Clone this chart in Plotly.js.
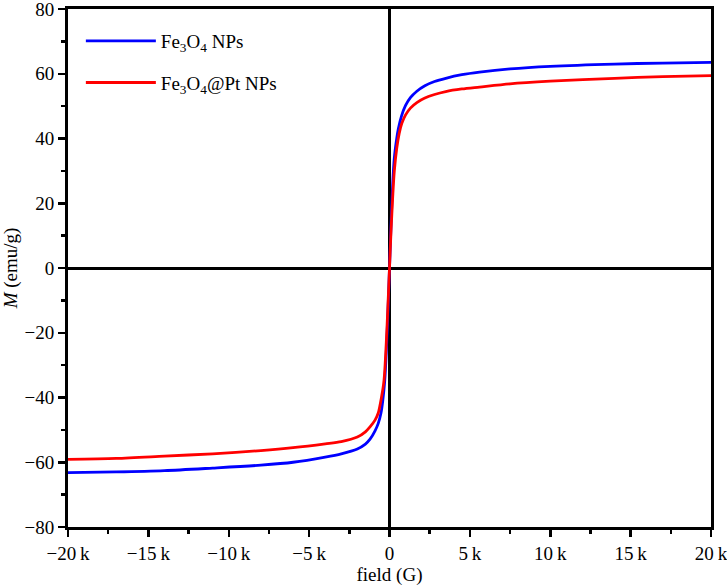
<!DOCTYPE html>
<html>
<head>
<meta charset="utf-8">
<script src="https://cdn.plot.ly/plotly-3.0.1.min.js"></script>
<style>
  body { margin: 0; padding: 0; background: #fff; }
  #plotDiv { width: 727px; height: 586px; }
</style>
</head>
<body>
<div id="plotDiv"></div>
<script>
// Fe3O4 NPs (campo en G, magnetizacion en emu/g)
var fieldFe = [-20000, -17000, -14000, -11000, -8000, -6000, -4000, -3000, -2000, -1500, -1200, -900, -700, -530, -420, -300, -200, -100, 0,
               100, 200, 300, 450, 550, 750, 1000, 1300, 1700, 2200, 2800, 3500, 4500, 5600, 7500, 10000, 14000, 17000, 20000];
var magFe = [-63.2, -63.0, -62.6, -61.8, -60.9, -60.0, -58.4, -57.4, -55.9, -54.4, -52.8, -50.3, -48.0, -44.8, -41.0, -35.0, -26.0, -14.0, 0,
             14.0, 26.0, 34.0, 40.0, 43.0, 47.0, 50.2, 52.6, 54.6, 56.3, 57.6, 58.6, 59.7, 60.5, 61.5, 62.3, 63.0, 63.3, 63.5];

// Fe3O4@Pt NPs
var fieldPt = [-20000, -17000, -14000, -11000, -8000, -6000, -4000, -3000, -2000, -1500, -1200, -900, -700, -500, -340, -200, -100, 0,
               100, 200, 300, 450, 600, 760, 1000, 1300, 1700, 2200, 2800, 3500, 4500, 5600, 7500, 10000, 14000, 17000, 20000];
var magPt = [-59.1, -58.8, -58.1, -57.4, -56.4, -55.5, -54.3, -53.6, -52.2, -50.6, -49.0, -47.0, -44.8, -40.0, -34.6, -23.0, -12.0, 0,
             12.0, 22.0, 30.0, 37.0, 41.5, 44.6, 47.3, 49.4, 51.1, 52.5, 53.6, 54.5, 55.3, 55.9, 56.9, 57.7, 58.6, 59.1, 59.4];

// etiquetas del eje x
var xTickVals = [-20000, -15000, -10000, -5000, 0, 5000, 10000, 15000, 20000];
var xTickText = ['\u221220\u2009k', '\u221215\u2009k', '\u221210\u2009k', '\u22125\u2009k', '0', '5\u2009k', '10\u2009k', '15\u2009k', '20\u2009k'];

var serif = '"Liberation Serif", "Times New Roman", serif';

var trace1 = {
  x: fieldFe,
  y: magFe,
  mode: 'lines',
  type: 'scatter',
  name: 'Fe<sub>3</sub>O<sub>4</sub> NPs',
  legendgroup: 'a',
  line: { color: '#0000ff', width: 2.8, shape: 'spline', smoothing: 0.8 }
};

var trace2 = {
  x: fieldPt,
  y: magPt,
  mode: 'lines',
  type: 'scatter',
  name: 'Fe<sub>3</sub>O<sub>4</sub>@Pt NPs',
  legendgroup: 'b',
  line: { color: '#ff0000', width: 2.8, shape: 'spline', smoothing: 0.8 }
};

var data = [trace1, trace2];

var layout = {
  width: 727,
  height: 586,
  margin: { l: 68, r: 16, t: 9, b: 59 },
  paper_bgcolor: '#fff',
  plot_bgcolor: '#fff',
  font: { family: serif, size: 19, color: '#000' },
  showlegend: true,
  legend: {
    x: 0.02, y: 0.975, xanchor: 'left', yanchor: 'top',
    bgcolor: 'rgba(0,0,0,0)',
    traceorder: 'grouped',
    tracegroupgap: 14,
    itemwidth: 70,
    font: { family: serif, size: 19 }
  },
  xaxis: {
    range: [-20000, 20000],
    tickmode: 'array',
    tickvals: xTickVals,
    ticktext: xTickText,
    tickfont: { family: serif, size: 19 },
    ticklabeloverflow: 'allow',
    ticks: 'outside', ticklen: 7, tickwidth: 2.5, tickcolor: '#000',
    minor: { tickmode: 'linear', tick0: 0, dtick: 2500, ticks: 'outside', ticklen: 4, tickwidth: 2.5, tickcolor: '#000', showgrid: false },
    showline: true, linewidth: 3, linecolor: '#000', mirror: true,
    showgrid: false,
    zeroline: true, zerolinecolor: '#000', zerolinewidth: 3,
    title: { text: 'field (G)', font: { family: serif, size: 19 }, standoff: 4 },
    fixedrange: true
  },
  yaxis: {
    range: [-80, 80],
    tickmode: 'linear', tick0: 0, dtick: 20,
    tickfont: { family: serif, size: 19 },
    ticklabeloverflow: 'allow',
    ticks: 'outside', ticklen: 7, tickwidth: 2.5, tickcolor: '#000',
    minor: { tickmode: 'linear', tick0: 0, dtick: 10, ticks: 'outside', ticklen: 4, tickwidth: 2.5, tickcolor: '#000', showgrid: false },
    showline: true, linewidth: 3, linecolor: '#000', mirror: true,
    showgrid: false,
    zeroline: true, zerolinecolor: '#000', zerolinewidth: 3,
    title: { text: '<i>M</i> (emu/g)', font: { family: serif, size: 19 }, standoff: 6 },
    fixedrange: true
  }
};

Plotly.newPlot('plotDiv', data, layout, { displayModeBar: false, staticPlot: true });
</script>
</body>
</html>
